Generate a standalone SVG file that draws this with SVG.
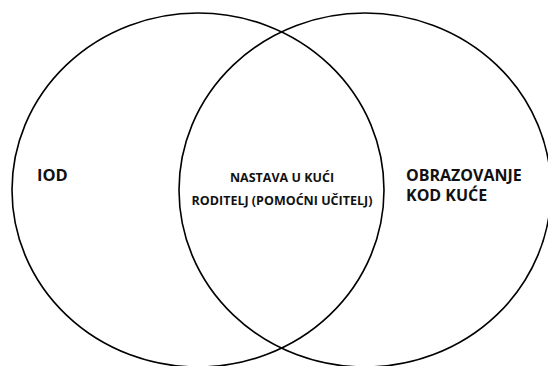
<svg xmlns="http://www.w3.org/2000/svg" width="548" height="366" viewBox="0 0 548 366">
<style>
.c{fill:none;stroke:#000;stroke-width:1.6}
.t{font-family:"Open Sans","Noto Sans",sans-serif;font-weight:bold;fill:#111}
.big{font-size:16px}
.sm{font-size:12.5px}
</style>
<rect width="548" height="366" fill="#fff"/>
<g id="left-set">
<ellipse class="c" cx="198" cy="190" rx="186" ry="177"/>
<text class="t big" x="37" y="181" style="font-size:16.5px">IOD</text>
</g>
<g id="right-set">
<ellipse class="c" cx="365" cy="190" rx="186" ry="177"/>
<text class="t big" x="406" y="181">OBRAZOVANJE</text>
<text class="t big" x="406" y="201">KOD KUĆE</text>
</g>
<g id="intersection">
<text class="t sm" x="282" y="182" text-anchor="middle">NASTAVA U KUĆI</text>
<text class="t sm" x="282" y="205" text-anchor="middle">RODITELJ (POMOĆNI UČITELJ)</text>
</g>
<g id="connectors"></g>
</svg>
